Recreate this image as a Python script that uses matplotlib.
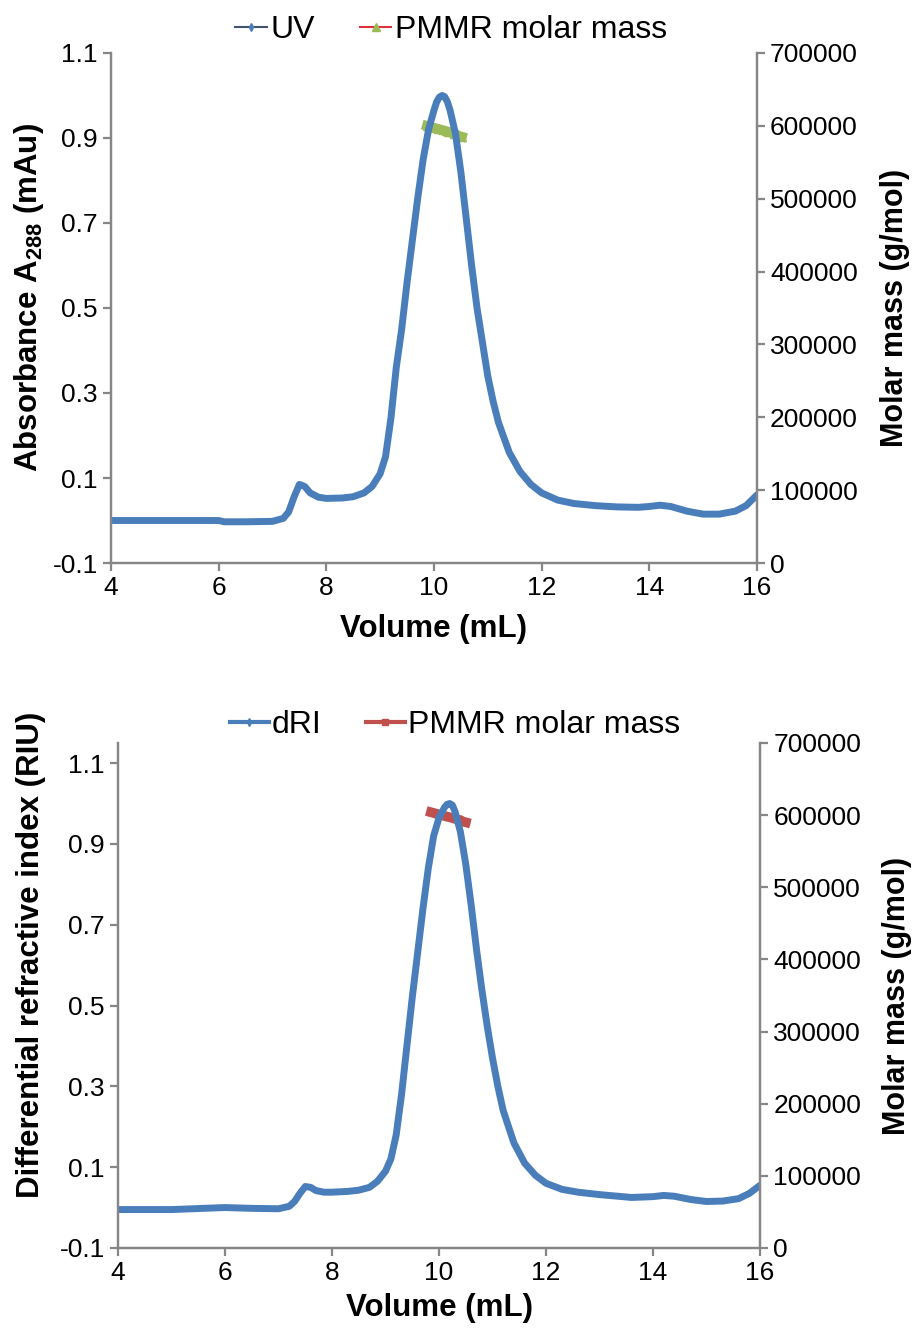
import matplotlib.pyplot as plt
from matplotlib.lines import Line2D

plt.rcParams['font.family'] = ['Liberation Sans', 'DejaVu Sans']
plt.rcParams['mathtext.fontset'] = 'custom'
plt.rcParams['mathtext.rm'] = 'Liberation Sans'
plt.rcParams['mathtext.bf'] = 'Liberation Sans:bold'

# --- top panel: UV trace ---
uv_vol = [4.0, 5.0, 6.0, 6.1, 6.5, 7.0, 7.2, 7.3, 7.4, 7.5, 7.6, 7.7, 7.85, 8.0, 8.3,
          8.5, 8.7, 8.85, 9.0, 9.1, 9.2, 9.3, 9.4, 9.5, 9.6, 9.7, 9.8, 9.9, 10.0,
          10.05, 10.1, 10.15, 10.2, 10.25, 10.3, 10.4, 10.5, 10.6, 10.7, 10.8, 10.9,
          11.0, 11.1, 11.2, 11.4, 11.6, 11.8, 12.0, 12.3, 12.6, 13.0, 13.4, 13.8,
          14.0, 14.2, 14.4, 14.7, 15.0, 15.3, 15.6, 15.8, 16.0]
uv_abs = [0.0, 0.0, 0.0, -0.003, -0.003, -0.002, 0.005, 0.02, 0.055, 0.085, 0.08,
          0.065, 0.055, 0.052, 0.053, 0.056, 0.065, 0.08, 0.11, 0.15, 0.24, 0.36,
          0.45, 0.56, 0.66, 0.76, 0.85, 0.92, 0.965, 0.985, 0.996, 1.0, 0.997, 0.985,
          0.965, 0.91, 0.82, 0.71, 0.6, 0.5, 0.42, 0.34, 0.28, 0.23, 0.16, 0.115,
          0.085, 0.065, 0.048, 0.04, 0.035, 0.032, 0.031, 0.033, 0.036, 0.033, 0.022,
          0.015, 0.015, 0.022, 0.035, 0.06]
mm_uv_vol = [9.87, 9.92, 9.97, 10.02, 10.07, 10.12, 10.17, 10.22, 10.27, 10.32,
             10.37, 10.42, 10.47, 10.52]
mm_uv_val = [600000, 599000, 598000, 597000, 596000, 595000, 594000, 593000,
             592000, 591000, 589000, 588000, 586000, 585000]

# --- bottom panel: dRI trace ---
ri_vol = [4.0, 5.0, 6.0, 6.5, 7.0, 7.2, 7.3, 7.4, 7.5, 7.6, 7.7, 7.85, 8.0, 8.3,
          8.5, 8.7, 8.85, 9.0, 9.1, 9.2, 9.3, 9.4, 9.5, 9.6, 9.7, 9.8, 9.9, 10.0,
          10.1, 10.15, 10.2, 10.25, 10.3, 10.4, 10.5, 10.6, 10.7, 10.8, 10.9, 11.0,
          11.1, 11.2, 11.4, 11.6, 11.8, 12.0, 12.3, 12.6, 13.0, 13.6, 14.0, 14.2,
          14.4, 14.7, 15.0, 15.3, 15.6, 15.8, 16.0]
ri_val = [-0.005, -0.005, 0.0, -0.002, -0.003, 0.003, 0.015, 0.035, 0.052, 0.05,
          0.042, 0.038, 0.038, 0.04, 0.043, 0.05, 0.065, 0.09, 0.12, 0.18, 0.28,
          0.4, 0.52, 0.63, 0.74, 0.84, 0.92, 0.965, 0.99, 0.998, 1.0, 0.996, 0.98,
          0.93, 0.85, 0.75, 0.64, 0.54, 0.45, 0.37, 0.3, 0.24, 0.16, 0.11, 0.08,
          0.06, 0.045, 0.038, 0.032, 0.025, 0.027, 0.03, 0.028, 0.02, 0.015, 0.016,
          0.022, 0.035, 0.055]
mm_ri_vol = [9.85, 9.90, 9.95, 10.0, 10.05, 10.1, 10.15, 10.2, 10.25, 10.3, 10.35,
             10.4, 10.45, 10.5]
mm_ri_val = [604000, 603000, 602000, 601000, 600000, 599000, 598000, 597000,
             596000, 595000, 594000, 593000, 591000, 590000]

x_ticks = [4, 6, 8, 10, 12, 14, 16]
left_ticks = [-0.1, 0.1, 0.3, 0.5, 0.7, 0.9, 1.1]
right_ticks = [0, 100000, 200000, 300000, 400000, 500000, 600000, 700000]

trace_blue = '#4a7ebb'
axis_gray = '#868686'


def panel(rect, vol, sig, mm_vol, mm_val, mm_style, ymax, left_label, lx, ly, rx, xl_y):
    ax = fig.add_axes(rect)
    ax.plot(vol, sig, color=trace_blue, lw=5, solid_capstyle='round', zorder=2)
    ax.set_xlim(4, 16)
    ax.set_ylim(-0.1, ymax)
    ax.set_xticks(x_ticks)
    ax.set_xticklabels([str(t) for t in x_ticks])
    ax.set_yticks(left_ticks)
    ax.set_yticklabels(['%.1f' % t for t in left_ticks])

    ax2 = ax.twinx()
    ax2.plot(mm_vol, mm_val, zorder=3, **mm_style)
    ax2.set_ylim(0, 700000)
    ax2.set_yticks(right_ticks)
    ax2.set_yticklabels([str(t) for t in right_ticks])

    for a in (ax, ax2):
        a.spines['top'].set_visible(False)
        for s in ('left', 'right', 'bottom'):
            a.spines[s].set_color(axis_gray)
            a.spines[s].set_linewidth(1.6)
        a.tick_params(labelsize=19, color=axis_gray, width=1.6, length=6, direction='out')
    ax.set_zorder(ax2.get_zorder() + 1)
    ax.patch.set_visible(False)

    ax.set_xlabel('Volume (mL)', fontsize=22.5, fontweight='bold')
    ax.xaxis.set_label_coords(0.5, xl_y)
    ax.set_ylabel(left_label, fontsize=22.5, fontweight='bold')
    ax.yaxis.set_label_coords(lx, ly)
    ax2.set_ylabel('Molar mass (g/mol)', fontsize=22, fontweight='bold')
    ax2.yaxis.set_label_coords(rx, 0.5)
    return ax, ax2


fig = plt.figure(figsize=(9.19, 13.31), dpi=100)

# top panel
panel([0.1208, 0.577, 0.7028, 0.3832], uv_vol, uv_abs, mm_uv_vol, mm_uv_val,
      dict(color='#9bbb59', lw=7, marker='^', ms=6, mfc='#9bbb59', mec='#9bbb59'),
      1.1, r'Absorbance A$_{\mathbf{288}}$ (mAu)', -0.1, 0.52, 1.19, -0.1)
top_handles = [
    Line2D([], [], color='#44546a', lw=1.5, marker='d', ms=4, mfc=trace_blue, mec=trace_blue),
    Line2D([], [], color='#e0303a', lw=1.5, marker='^', ms=6, mfc='#9bbb59', mec='#9bbb59'),
]
fig.legend(top_handles, ['UV', 'PMMR molar mass'], loc='center', ncol=2,
           bbox_to_anchor=(451 / 919, 1 - 30 / 1331), frameon=False, fontsize=23,
           handlelength=1.0, handletextpad=0.1, columnspacing=1.4)

# bottom panel
panel([0.1284, 0.0624, 0.6986, 0.3794], ri_vol, ri_val, mm_ri_vol, mm_ri_val,
      dict(color='#c0504d', lw=7, marker='s', ms=5, mfc='#c0504d', mec='#c0504d'),
      1.15, 'Differential refractive index (RIU)', -0.112, 0.58, 1.19, -0.09)
bot_handles = [
    Line2D([], [], color=trace_blue, lw=3, marker='d', ms=4, mfc=trace_blue, mec=trace_blue),
    Line2D([], [], color='#c0504d', lw=3, marker='s', ms=5, mfc='#c0504d', mec='#c0504d'),
]
fig.legend(bot_handles, ['dRI', 'PMMR molar mass'], loc='center', ncol=2,
           bbox_to_anchor=(455 / 919, 1 - 725 / 1331), frameon=False, fontsize=23,
           handlelength=1.2, handletextpad=0.1, columnspacing=1.4)

fig.savefig('out.png', dpi=100)
